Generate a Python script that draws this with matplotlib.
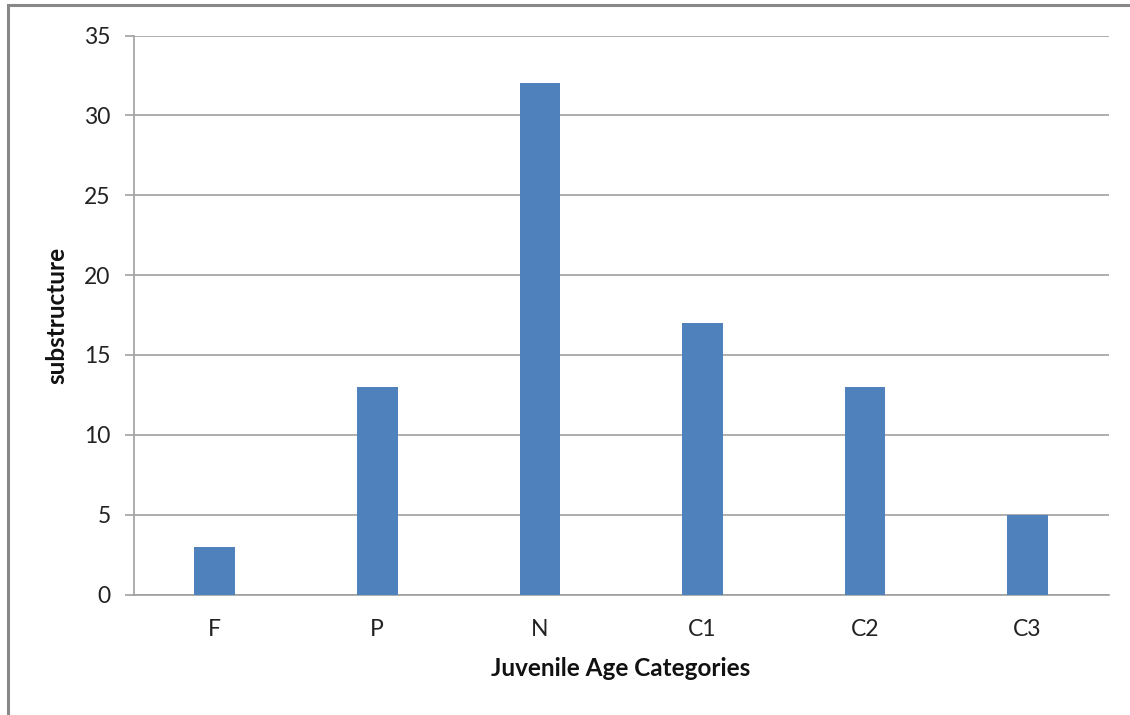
import matplotlib
matplotlib.use("Agg")
import matplotlib.pyplot as plt
from matplotlib.patches import Rectangle

categories = ["F", "P", "N", "C1", "C2", "C3"]
values = [3, 13, 32, 17, 13, 5]
yticks = [0, 5, 10, 15, 20, 25, 30, 35]

plt.rcParams['font.family'] = ['Lato', 'DejaVu Sans']

W, H = 1130, 715
fig = plt.figure(figsize=(W / 100, H / 100), dpi=100)
ax = fig.add_axes([133.5 / W, 1 - 594.5 / H, (1108.7 - 133.5) / W, (594.5 - 35.5) / H])

x = list(range(len(categories)))
ax.bar(x, values, width=0.25, color="#4F81BD", zorder=3)
ax.set_xlim(-0.5, len(categories) - 0.5)
ax.set_ylim(0, 35)
ax.set_yticks(yticks)
ax.set_xticks(x)
ax.set_xticklabels(categories)

ax.grid(axis="y", color="#A0A0A0", linewidth=1.2, zorder=0)
for s in ["top", "right"]:
    ax.spines[s].set_visible(False)
ax.spines["left"].set_color("#A0A0A0")
ax.spines["bottom"].set_color("#A0A0A0")
ax.spines["left"].set_linewidth(1.2)
ax.spines["bottom"].set_linewidth(1.2)
ax.tick_params(axis="y", length=6.5, width=1.2, color="#A0A0A0", labelsize=16.5, pad=10, labelcolor="#222222")
ax.tick_params(axis="x", length=0, labelsize=16.5, pad=18, labelcolor="#222222")

ax.set_xlabel("Juvenile Age Categories", fontsize=17.5, fontweight="bold", labelpad=12, color="#111111")
ax.set_ylabel("substructure", fontsize=17.5, fontweight="bold", labelpad=11, color="#111111")

fig.patches.append(Rectangle((8 / W, -0.1), 1.2, 1 - 5.5 / H + 0.1, transform=fig.transFigure,
                             fill=False, edgecolor="#888888", linewidth=2.2))

fig.savefig("out.png", dpi=100)
